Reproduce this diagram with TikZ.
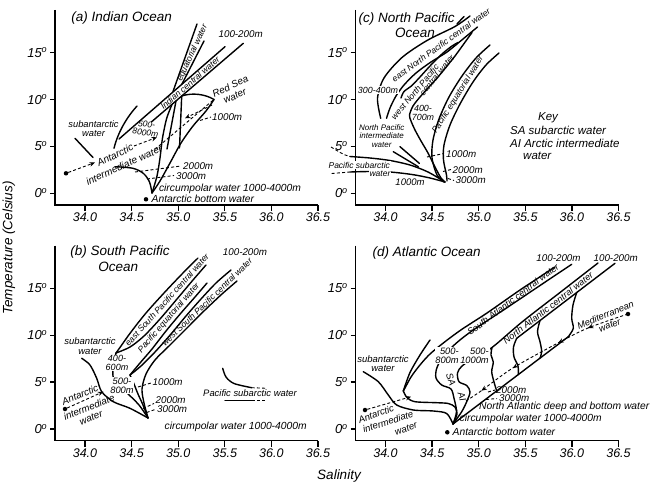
\documentclass[tikz,border=0pt]{standalone}
\usepackage{fontspec}
\setmainfont{Liberation Sans}
\usetikzlibrary{arrows.meta,decorations.markings}
\begin{document}
\begin{tikzpicture}[x=1pt,y=-1pt,
  crv/.style={line width=1.4pt,line cap=round,line join=round},
  dsh/.style={line width=0.9pt,dash pattern=on 3pt off 2.2pt},
  axl/.style={line width=1.3pt},
  arr/.style={-{Stealth[length=5.5pt,width=4.5pt]}},
  fs/.style={font=\fontsize{#1}{#1}\selectfont\itshape,inner sep=0pt,align=center},
  fsl/.style 2 args={font=\fontsize{#1}{#2}\selectfont\itshape,inner sep=0pt,align=center},
  dt/.style={circle,fill=black,inner sep=0pt,minimum size=4.5pt},
  wf/.style={fill=white,inner sep=0.8pt}]
\useasboundingbox (0,0) rectangle (650,487);

% ---------- axes ----------
\foreach \p/\dx/\dy in {a/0/0,c/300.5/0,b/0/235.7,d/300.5/235.7}{
  \begin{scope}[shift={(\dx,\dy)}]
    \draw[axl] (55,10) -- (55,205) -- (318,205);
    \foreach \t/\Y in {0/193.3,5/146.4,10/99.5,15/52.6}{
      \draw[axl] (50,\Y) -- (55,\Y);
      \node[fs=13,anchor=east] (y\p\t) at (47.5,\Y) {\t\textsuperscript{o}};
    }
    \foreach \s [count=\k from 0] in {34.0,34.5,35.0,35.5,36.0,36.5}{
      \draw[axl] ({85+46.6*\k},205) -- ({85+46.6*\k},211);
      \node[fs=12.5,anchor=north] (x\p\k) at ({85+46.6*\k},212.5) {\s};
    }
  \end{scope}
}
\node[fs=13.5,rotate=90] (ylab) at (9,248) {Temperature (Celsius)};
\node[fs=13.5] (xlab) at (339,476) {Salinity};

% ---------- (a) Indian Ocean ----------
\node[fs=13.5] (ta) at (121.7,18.3) {(a) Indian Ocean};
\draw[crv] (173,91.5) -- (197,24);
\draw[crv] (182,84) -- (204,41);
\node[fs=8.6,rotate=65] (aeq) at (192.5,53) {equatorial water};
\draw[crv] (119,139) -- (225,46.7);
\draw[crv] (151.7,121.7) -- (243.3,43.3);
\node[fs=8.6,rotate=41] (aic) at (190,83) {Indian central water};
\draw[crv] plot[smooth] coordinates {(172,104.5) (166.7,118.3) (162.5,138) (160,158) (157,176) (152,193)};
\draw[crv] (176,101) -- (167,149);
\draw[crv] (181.7,96) -- (179.5,148);
\draw[crv] (181.7,96) .. controls (192,92.5) and (205,94) .. (214,99.5);
\draw[crv] plot[smooth] coordinates {(214,99.5) (206,111) (193,126) (181,143) (170,163) (160,181) (152,193)};
\draw[crv] plot[smooth] coordinates {(115,166.7) (133,168.3) (143.5,173.5) (149.5,182) (152,193)};
\draw[crv] (114,148.3) .. controls (118,132) and (127,117) .. (137,106);
\draw[crv] (75,138.3) -- (93,157.5);
\node[dt] (adot) at (66,173.3) {};
\draw[dsh,arr] (adot) -- (95,162.5);
\draw[dsh,arr] (134,146) -- (157,137.3);
\draw[dsh] (155,149.3) -- (213.3,100);
\draw[dsh,arr] (212,105) -- (185,118.3);
\draw[dsh] (200,120.5) -- (211,117);
\draw[dsh] (135,172) -- (181,166);
\draw[dsh] (147,179) -- (174,175.5);
\node[fs=9.8] (a100) at (240.7,34) {100-200m};
\node[fsl={9.8}{10.5},rotate=25] (ars) at (232.5,91) {Red Sea\\water};
\node[fs=9.8,anchor=west] (a1000) at (212,117) {1000m};
\node[fsl={8.5}{8.5},rotate=-8] (a500) at (146,128.5) {500-\\8000m};
\node[fsl={9.3}{9.4}] (asub) at (93.5,128.5) {subantarctic\\water};
\node[fs=10,rotate=26] (aant) at (115,155) {Antarctic};
\node[fs=10,rotate=24.5] (aint) at (124,165) {intermediate water};
\node[fs=9.8,anchor=west] (a2000) at (183,166) {2000m};
\node[fs=9.8,anchor=west] (a3000) at (176,176) {3000m};
\node[fs=10.3] (acirc) at (230,188.7) {circumpolar water 1000-4000m};
\node[dt] (aabw) at (146,199.3) {};
\node[fs=10.3,anchor=west] (aabwt) at (151.5,199.3) {Antarctic bottom water};

% ---------- (c) North Pacific ----------
\node[fs=13.5] (tc1) at (406.7,19) {(c) North Pacific};
\node[fs=13.5] (tc2) at (415,33) {Ocean};
\draw[crv] plot[smooth] coordinates {(380.7,118.3) (377.5,98) (384,78) (402,57.5) (427,40.5) (455,26.5) (470,16)};
\draw[crv] (457,24) -- (464,16.5);
\draw[crv] plot[smooth] coordinates {(386.5,118.3) (390,108) (396,96) (404,85) (416,73) (431,62) (447,52) (463,39) (477.5,27)};
\draw[crv] plot[smooth] coordinates {(401,98) (404,91.5) (411.4,86) (420,77) (430,66) (442,54) (452,46) (458,42.5)};
\draw[crv] plot[smooth] coordinates {(472,32.5) (463,45) (455,56) (447,66) (438,77) (429,87) (420,97) (413,106) (409.5,115) (411,121) (415,130) (421,141) (428,153) (435,167) (441,178) (445,182)};
\node[fs=8.6,rotate=36] (cenp) at (441,45) {east North Pacific central water};
\node[fs=8.6,rotate=50] (cwnp1) at (415,92) {west North Pacific};
\node[fs=8.6,rotate=51] (cwnp2) at (437,75) {central water};
\draw[crv] plot[smooth] coordinates {(490,45) (476,58) (462,76) (449,97) (439,119) (433,140) (432,158) (437,175) (444,182)};
\draw[crv] plot[smooth] coordinates {(499,53) (486,65) (473,82) (460,104) (450,125) (444,145) (443.5,160) (446.5,175) (447,181)};
\node[fs=8.6,rotate=58] (cpew) at (458,95) {Pacific equatorial water};
\draw[crv] (400,146.7) -- (419.3,163.3);
\draw[crv] (393.3,151.7) -- (418.3,166.7);
\draw[dsh] (331,147) .. controls (338,151) and (343,155) .. (350,156.5);
\draw[crv] plot[smooth] coordinates {(350,156.5) (370,158) (390,160.5) (410,165) (428,172) (445,182)};
\draw[dsh] (331.7,173.5) -- (350,172);
\draw[crv] plot[smooth] coordinates {(350,172) (370,171.5) (390,172) (412,174.5) (430,178) (445,182)};
\node[fs=8.5,wf] (cpsa1) at (359.3,165) {Pacific subarctic};
\node[fs=8.5,wf] (cpsa2) at (380,173.7) {water};
\node[fs=9.5] (c1000b) at (410,182) {1000m};
\node[fs=8.9,wf] (c300) at (378,90) {300-400m};
\node[fsl={8.9}{9}] (c400) at (423,112.5) {400-\\700m};
\node[fsl={8}{8.2}] (cnpi) at (381.7,136) {North Pacific\\intermediate\\water};
\draw[dsh] (427,157) -- (444,153.5);
\node[fs=9.8,anchor=west] (c1000) at (446,154) {1000m};
\draw[dsh] (443,171.5) -- (451,169.5);
\node[fs=9.8,anchor=west] (c2000) at (452.5,170) {2000m};
\draw[dsh] (448,178.5) -- (454,180.5);
\node[fs=9.8,anchor=west] (c3000) at (455.5,180.5) {3000m};
\node[fs=11.5] (ckey) at (548,118) {Key};
\node[fs=11.5,anchor=west] (cka) at (510,130.5) {SA subarctic water};
\node[fs=11.5,anchor=west] (ckb) at (510,143) {AI Arctic intermediate};
\node[fs=11.5,anchor=west] (ckc) at (523,155.5) {water};

% ---------- (b) South Pacific ----------
\node[fs=13.5] (tb1) at (120,252.3) {(b) South Pacific};
\node[fs=13.5] (tb2) at (118.3,266.7) {Ocean};
\node[fs=9.8] (b100) at (245,251.7) {100-200m};
\draw[crv] plot[smooth] coordinates {(198,258) (182,274) (164,293) (146,313) (131,332) (121,346) (116,353)};
\draw[crv] plot[smooth] coordinates {(206,265) (193,280) (177,299) (160,319) (144,336) (130,347) (116,353)};
\draw[crv] plot[smooth] coordinates {(207,283) (195,297) (181,313) (166,331) (152,349) (140,363) (130,375)};
\draw[crv] plot[smooth] coordinates {(231,270) (216,283) (201,299) (186,316) (171,334) (155,352) (141,366) (130,375)};
\draw[crv] plot[smooth] coordinates {(237,281) (222,294) (205,310) (187,328) (169,346) (155,360) (146,374) (142,389) (144,403) (148,418)};
\draw[crv] plot[smooth] coordinates {(116,353) (113.5,364) (113,376) (117,385) (127,393) (139,405) (148,418)};
\draw[crv] plot[smooth] coordinates {(130,375) (134,384) (138,394) (143,405) (148,418)};
\draw[crv] plot[smooth] coordinates {(81.7,358.3) (90,365) (96.7,378.3) (101.7,391.7) (113.3,401.7) (130,408.3) (148,418)};
\node[fs=8.6,rotate=48] (bes) at (167,300) {east South Pacific central water};
\node[fs=8.6,rotate=49] (bpe) at (169,318) {Pacific equatorial water};
\node[fs=8.6,rotate=44] (bws) at (207,302) {west South Pacific central water};
\node[fsl={9}{9},wf] (b400) at (117,363) {400-\\600m};
\node[fsl={9.3}{9.3},wf] (b500) at (122,385.5) {500-\\800m};
\draw[dsh] (138,387) -- (151,383);
\node[fs=9.8,anchor=west] (b1000) at (152.5,382) {1000m};
\draw[dsh] (143,408.5) -- (154,403.5);
\node[fs=9.8,anchor=west] (b2000) at (155.5,400) {2000m};
\draw[dsh] (146.7,412.5) -- (155,409.5);
\node[fs=9.8,anchor=west] (b3000) at (157,409) {3000m};
\node[fs=10.3] (bcirc) at (235.7,427.3) {circumpolar water 1000-4000m};
\node[fsl={9.5}{9.5}] (bsub) at (90,346) {subantarctic\\water};
\node[dt] (bdot) at (65,409) {};
\draw[dsh,arr] (bdot) -- (103.3,391.7);
\node[fs=9.8,rotate=22] (bant) at (80,395) {Antarctic};
\node[fs=9.8,rotate=22] (bint) at (89,407) {intermediate};
\node[fs=9.8,rotate=22] (bwat) at (91,418) {water};
\draw[crv] plot[smooth] coordinates {(222.7,368.3) (226,377) (234,383.5) (251.7,387.7)};
\draw[dsh] (251.7,387.7) -- (266.7,388.3);
\draw[crv] (225,400.7) -- (251.7,400.7);
\draw[dsh] (251.7,400.7) -- (266.7,400.7);
\node[fs=9.4] (bpsa) at (250,393.3) {Pacific subarctic water};

% ---------- (d) Atlantic Ocean ----------
\node[fs=13.5] (td) at (426.7,253.3) {(d) Atlantic Ocean};
\node[fs=9.8] (d100a) at (558.5,258.5) {100-200m};
\node[fs=9.8] (d100b) at (615.7,258.5) {100-200m};
\draw[crv] plot[smooth] coordinates {(555,267) (520,290) (487,313) (458,332) (430,354) (413,374) (405,388) (403.3,391)};
\draw[crv] plot[smooth] coordinates {(430,340) (420,355) (410,372.5) (403.3,391)};
\draw[crv] plot[smooth] coordinates {(403.3,391) (407,397.5) (415,401.7) (436.7,402.7) (448.3,403.5) (455,407) (457,414) (453,424)};
\draw[crv] plot[smooth] coordinates {(363.3,371.7) (378.3,381.7) (388.3,395) (396.7,405) (413.3,410) (433.3,411) (446.7,413.5) (453,424)};
\draw[crv] plot[smooth] coordinates {(571.7,264.3) (540,285.5) (505,309) (470,332.3) (452,347) (441,360) (436.5,369) (436,378) (441.7,385) (451,389) (454,398.3) (456.5,411.7) (453,424)};
\draw[crv] plot[smooth] coordinates {(598,263) (560,292.5) (522,322) (492,347.5) (474,358) (462,366) (457.5,373) (459,381.7) (466.7,385.5) (470,392) (466.7,401.7) (461.7,411.7) (453,424)};
\draw[crv] plot[smooth] coordinates {(492,347.5) (491,355) (493.3,362) (491.7,371.7) (494,382) (496.7,391)};
\draw[crv] (615,263.3) -- (516.7,338.3);
\draw[crv] plot[smooth] coordinates {(516.7,338.3) (513.5,347) (514,357) (518,366) (518.3,374.6)};
\draw[crv] plot[smooth] coordinates {(540,320.5) (537.5,331.7) (540,341.7) (541.7,351.7) (540,358.1)};
\draw[crv] plot[smooth] coordinates {(576.7,292.5) (573,305) (571.7,318.3) (573.3,328.3) (568.3,336.7)};
\draw[crv] (568.3,336.7) -- (453,424);
\node[fs=9.2,rotate=37] (dsac) at (513,299.5) {South Atlantic central water};
\node[fs=9.2,rotate=37.5] (dnac) at (548,308) {North Atlantic central water};
\node[dt] (mdot) at (628,314) {};
\draw[dsh,postaction={decorate},decoration={markings,
  mark=at position 0.23 with {\arrow{Stealth[length=5.5pt,width=4.5pt]}},
  mark=at position 0.41 with {\arrow{Stealth[length=5.5pt,width=4.5pt]}},
  mark=at position 0.69 with {\arrow{Stealth[length=5.5pt,width=4.5pt]}},
  mark=at position 0.90 with {\arrow{Stealth[length=5.5pt,width=4.5pt]}}}]
  plot[smooth] coordinates {(628,314) (588,328) (557,343.5) (512,368.5) (481,391) (466,401)};
\node[fsl={9.3}{11},rotate=22] (dmed) at (607.5,320) {Mediterranean\\water};
\node[dt] (ddot) at (365,410) {};
\draw[dsh,arr] (ddot) -- (411,396.7);
\node[fs=9.5,rotate=20] (dant) at (376,414) {Antarctic};
\node[fs=9.5,rotate=18] (dint) at (388,421.5) {intermediate};
\node[fs=9.5,rotate=20] (dwat) at (406,429) {water};
\node[fsl={9.5}{9.5}] (dsub) at (383,363.5) {subantarctic\\water};
\node[fsl={9.3}{9.3},wf,align=right] (d58) at (447,355.5) {500-\\800m};
\node[fsl={9.3}{9.3},wf,align=right] (d510) at (474.5,355.5) {500-\\1000m};
\node[fs=9.5,rotate=-72] (dsa) at (451,379.5) {SA};
\node[fs=9.5,rotate=-72] (dai) at (462,397) {AI};
\draw[dsh] (488,392) -- (495,390);
\node[fs=9.8,anchor=west] (d2000) at (496,390) {2000m};
\draw[dsh] (486,399.5) -- (497,398.5);
\node[fs=9.8,anchor=west] (d3000) at (499,398.5) {3000m};
\node[fs=10.3,anchor=west] (dnadw) at (479,406.5) {North Atlantic deep and bottom water};
\node[fs=10.3] (dcirc) at (530.7,419) {circumpolar water 1000-4000m};
\node[dt] (dabw) at (447.3,432.3) {};
\node[fs=10.3,anchor=west] (dabwt) at (452.5,432.3) {Antarctic bottom water};
\end{tikzpicture}
\end{document}
